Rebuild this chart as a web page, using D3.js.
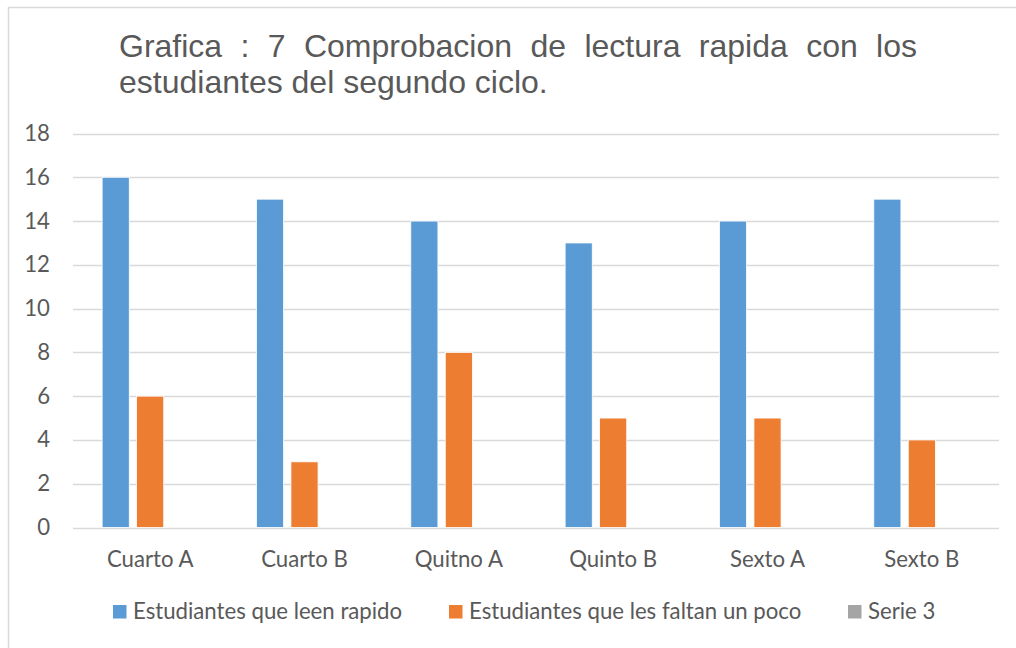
<!DOCTYPE html>
<html><head><meta charset="utf-8">
<script src="https://cdn.jsdelivr.net/npm/d3@7"></script>
<style>body{margin:0;background:#fff}svg{display:block}</style>
</head><body>
<script>
const categories = ["Cuarto A","Cuarto B","Quitno A","Quinto B","Sexto A","Sexto B"];
const seriesNames = ["Estudiantes que leen rapido","Estudiantes que les faltan un poco","Serie 3"];
const leenRapido = [16,15,14,13,14,15];
const faltanPoco = [6,3,8,5,5,4];
const serie3 = [0,0,0,0,0,0];
const yTicks = [0,2,4,6,8,10,12,14,16,18];
const titleLine1 = "Grafica : 7 Comprobacion de lectura rapida con los";
const titleLine2 = "estudiantes del segundo ciclo.";
const colors = ["#5B9BD5","#ED7D31","#A5A5A5"];

const W=1016,H=648;
const svg=d3.select("body").append("svg").attr("width",W).attr("height",H);
svg.append("rect").attr("width",W).attr("height",H).attr("fill","#fff");
svg.append("rect").attr("x",8.5).attr("y",7.5).attr("width",W+20).attr("height",H+20)
  .attr("fill","none").attr("stroke","#d9d9d9").attr("stroke-width",1.5);

const txt="#595959";
const labelFont="Lato, 'Noto Sans', sans-serif";
const fs=22.2;

// title
const tFont="'Liberation Sans', Arial, sans-serif";
const tfs=32;
const words=titleLine1.split(" ");
const tg=svg.append("g");
const wnodes=words.map(w=>tg.append("text").attr("y",57).attr("font-family",tFont).attr("font-size",tfs).attr("fill",txt).text(w));
const widths=wnodes.map(n=>n.node().getComputedTextLength());
const x0=119,x1=917;
const gap=(x1-x0-d3.sum(widths))/(words.length-1);
let cx=x0;
wnodes.forEach((n,i)=>{n.attr("x",cx);cx+=widths[i]+gap;});
tg.append("text").attr("x",x0).attr("y",93).attr("font-family",tFont).attr("font-size",tfs).attr("fill",txt).text(titleLine2);

// scales
const y=d3.scaleLinear().domain([0,18]).range([527.5,133.5]);
const x=d3.scaleBand().domain(categories).range([73,999]).padding(0);
const xs=d3.scaleBand().domain(seriesNames).range([0,x.bandwidth()]).paddingInner(0.213).paddingOuter(0.845);

// grid
svg.append("g").selectAll("line").data(yTicks).join("line")
  .attr("x1",73).attr("x2",999).attr("y1",d=>Math.round(y(d))+0.5).attr("y2",d=>Math.round(y(d))+0.5)
  .attr("stroke","#d9d9d9").attr("stroke-width",1.3);

// y labels
svg.append("g").selectAll("text").data(yTicks).join("text")
  .attr("x",50).attr("y",d=>y(d)+7.5).attr("text-anchor","end")
  .attr("font-family",labelFont).attr("font-size",fs).attr("fill",txt).text(d=>d);

// bars
const data=[leenRapido,faltanPoco,serie3];
const groups=svg.append("g").selectAll("g").data(categories).join("g")
  .attr("transform",d=>`translate(${x(d)},0)`);
groups.selectAll("rect").data((c,i)=>seriesNames.map((s,j)=>({s,j,v:data[j][i]}))).join("rect")
  .attr("x",d=>xs(d.s)).attr("width",xs.bandwidth())
  .attr("y",d=>y(d.v)).attr("height",d=>y(0)-y(d.v))
  .attr("fill",d=>colors[d.j]).attr("stroke","#fff").attr("stroke-width",0.8);

// x labels
svg.append("g").selectAll("text").data(categories).join("text")
  .attr("x",d=>x(d)+x.bandwidth()/2).attr("y",567).attr("text-anchor","middle")
  .attr("font-family",labelFont).attr("font-size",fs).attr("fill",txt).text(d=>d);

// legend
const legX=[113,449,848];
const lg=svg.append("g").selectAll("g").data(seriesNames).join("g")
  .attr("transform",(d,i)=>`translate(${legX[i]},0)`);
lg.append("rect").attr("x",0).attr("y",605).attr("width",13.5).attr("height",13.5).attr("fill",(d,i)=>colors[i]);
lg.append("text").attr("x",20).attr("y",619).attr("font-family",labelFont).attr("font-size",fs).attr("fill",txt).text(d=>d);
</script>
</body></html>
